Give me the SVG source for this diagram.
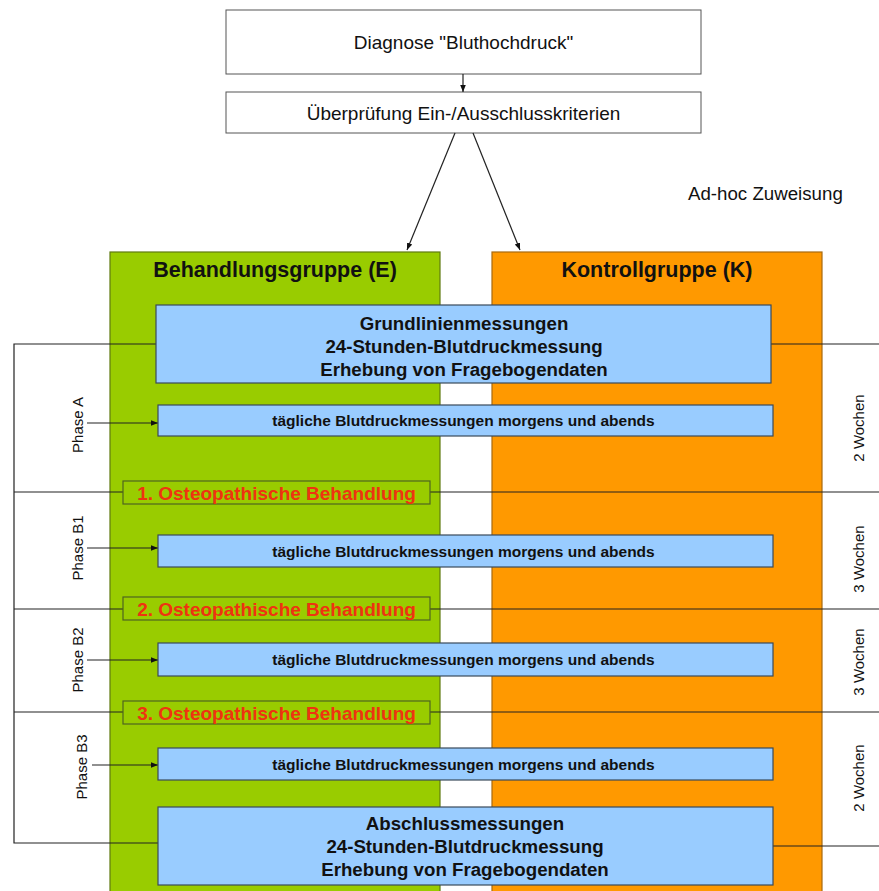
<svg xmlns="http://www.w3.org/2000/svg" width="879" height="891" viewBox="0 0 879 891">
<style>
text{font-family:"Liberation Sans",Arial,sans-serif;fill:#111}
.top{fill:#fff;stroke:#555;stroke-width:1}
.blue{fill:#99ccff;stroke:#3a4a5a;stroke-width:1.2}
.osteo{fill:#99cc00;stroke:#4f6420;stroke-width:1.2}
.ln{stroke:#222;stroke-width:1.2;fill:none}
.b{font-weight:bold}
.red{fill:#ee3311;font-weight:bold;font-size:19px}
.daily{font-weight:bold;font-size:15.5px}
.side{font-size:15px}
</style>
<defs>
<marker id="ah" viewBox="0 0 10 10" refX="10" refY="5" markerWidth="7" markerHeight="7" orient="auto" markerUnits="userSpaceOnUse"><path d="M0,1 L10,5 L0,9 z" fill="#111"/></marker>
</defs>
<rect x="0" y="0" width="879" height="891" fill="#fff"/>
<g id="diagnose"><rect class="top" x="226" y="10" width="475" height="64"/><text x="463.5" y="49" text-anchor="middle" font-size="19">Diagnose "Bluthochdruck"</text></g>
<g id="pruefung"><rect class="top" x="226" y="92" width="475" height="41"/><text x="463.5" y="120" text-anchor="middle" font-size="19">Überprüfung Ein-/Ausschlusskriterien</text></g>
<g id="adhoc"><text x="688" y="200" font-size="18.7">Ad-hoc Zuweisung</text></g>
<g id="gruppeE"><rect x="110" y="252" width="330" height="650" fill="#99cc00" stroke="#5f7a10" stroke-width="1.2"/><text class="b" x="275" y="277" text-anchor="middle" font-size="21.5">Behandlungsgruppe (E)</text></g>
<g id="gruppeK"><rect x="492" y="252" width="330" height="650" fill="#ff9900" stroke="#a86a10" stroke-width="1.2"/><text class="b" x="657" y="277" text-anchor="middle" font-size="21.5">Kontrollgruppe (K)</text></g>
<g id="connectors">
<line class="ln" x1="463" y1="74" x2="463" y2="92" marker-end="url(#ah)"/>
<line class="ln" x1="455" y1="133" x2="407" y2="250" marker-end="url(#ah)"/>
<line class="ln" x1="473" y1="133" x2="520" y2="250" marker-end="url(#ah)"/>
<polyline class="ln" points="156,344 14,344 14,843 158,843"/>
<line class="ln" x1="771" y1="344" x2="879" y2="344"/>
<line class="ln" x1="773" y1="846" x2="879" y2="846"/>
<line class="ln" x1="14" y1="492" x2="123" y2="492"/>
<line class="ln" x1="430" y1="492" x2="879" y2="492"/>
<line class="ln" x1="14" y1="609" x2="123" y2="609"/>
<line class="ln" x1="430" y1="609" x2="879" y2="609"/>
<line class="ln" x1="14" y1="712" x2="123" y2="712"/>
<line class="ln" x1="430" y1="712" x2="879" y2="712"/>
<line class="ln" x1="87" y1="423" x2="158" y2="423" marker-end="url(#ah)"/>
<line class="ln" x1="87" y1="548" x2="158" y2="548" marker-end="url(#ah)"/>
<line class="ln" x1="87" y1="660" x2="158" y2="660" marker-end="url(#ah)"/>
<line class="ln" x1="92" y1="765" x2="158" y2="765" marker-end="url(#ah)"/>
</g>
<g id="grundlinie"><rect class="blue" x="156" y="305" width="615" height="78"/>
<text class="b" font-size="18.7" text-anchor="middle"><tspan x="464" y="330">Grundlinienmessungen</tspan><tspan x="464" y="353">24-Stunden-Blutdruckmessung</tspan><tspan x="464" y="376">Erhebung von Fragebogendaten</tspan></text></g>
<g id="dailyA"><rect class="blue" x="158" y="405" width="615" height="31"/><text class="daily" x="463.5" y="426" text-anchor="middle">tägliche Blutdruckmessungen morgens und abends</text></g>
<g id="osteo1"><rect class="osteo" x="123" y="481" width="307" height="23"/><text class="red" x="276.5" y="500" text-anchor="middle">1. Osteopathische Behandlung</text></g>
<g id="dailyB1"><rect class="blue" x="158" y="535" width="615" height="32"/><text class="daily" x="463.5" y="557" text-anchor="middle">tägliche Blutdruckmessungen morgens und abends</text></g>
<g id="osteo2"><rect class="osteo" x="123" y="597" width="307" height="23"/><text class="red" x="276.5" y="616" text-anchor="middle">2. Osteopathische Behandlung</text></g>
<g id="dailyB2"><rect class="blue" x="158" y="643" width="615" height="33"/><text class="daily" x="463.5" y="665" text-anchor="middle">tägliche Blutdruckmessungen morgens und abends</text></g>
<g id="osteo3"><rect class="osteo" x="123" y="701" width="307" height="23"/><text class="red" x="276.5" y="720" text-anchor="middle">3. Osteopathische Behandlung</text></g>
<g id="dailyB3"><rect class="blue" x="158" y="748" width="615" height="32"/><text class="daily" x="463.5" y="770" text-anchor="middle">tägliche Blutdruckmessungen morgens und abends</text></g>
<g id="abschluss"><rect class="blue" x="158" y="807" width="615" height="78"/>
<text class="b" font-size="18.7" text-anchor="middle"><tspan x="465" y="830">Abschlussmessungen</tspan><tspan x="465" y="853">24-Stunden-Blutdruckmessung</tspan><tspan x="465" y="876">Erhebung von Fragebogendaten</tspan></text></g>
<g id="phaseA"><text class="side" transform="translate(83,425) rotate(-90)" text-anchor="middle">Phase A</text></g>
<g id="phaseB1"><text class="side" transform="translate(83,548) rotate(-90)" text-anchor="middle">Phase B1</text></g>
<g id="phaseB2"><text class="side" transform="translate(83,660) rotate(-90)" text-anchor="middle">Phase B2</text></g>
<g id="phaseB3"><text class="side" transform="translate(87,767) rotate(-90)" text-anchor="middle">Phase B3</text></g>
<g id="wochenA"><text class="side" transform="translate(864,428) rotate(-90)" text-anchor="middle">2 Wochen</text></g>
<g id="wochenB1"><text class="side" transform="translate(864,559) rotate(-90)" text-anchor="middle">3 Wochen</text></g>
<g id="wochenB2"><text class="side" transform="translate(864,662) rotate(-90)" text-anchor="middle">3 Wochen</text></g>
<g id="wochenB3"><text class="side" transform="translate(864,778) rotate(-90)" text-anchor="middle">2 Wochen</text></g>
</svg>
